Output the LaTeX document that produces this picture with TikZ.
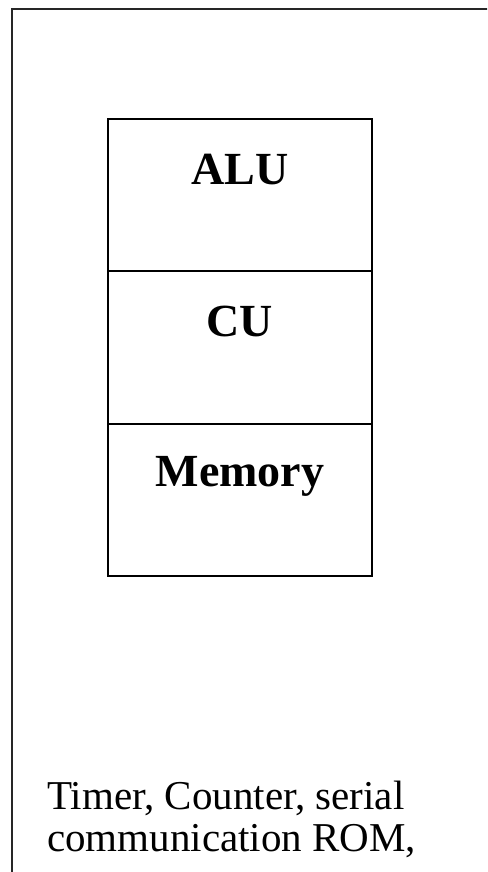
\documentclass[tikz,border=0pt]{standalone}
\usepackage{fontspec}
\setmainfont{Liberation Serif}
\usepackage{tikz}
\usetikzlibrary{positioning}

\begin{document}
\begin{tikzpicture}[x=1pt, y=-1pt,
    unitbox/.style={draw=black, line width=2.1pt, minimum width=264pt, minimum height=152.5pt, inner sep=0pt},
    unitlabel/.style={anchor=north, inner sep=0pt, font=\fontsize{46}{50}\selectfont\bfseries}]
    \useasboundingbox (0,0) rectangle (487,872);
    \clip (0,0) rectangle (487,872);

    % outer chip outline (runs off the page to the right and bottom)
    \draw[line width=2.1pt, black!85] (12,9) rectangle (540,920);

    % CPU stack, shared borders overlap
    \node[unitbox] (alu) at (240,195) {};
    \node[unitbox, below=-2.1pt of alu] (cu) {};
    \node[unitbox, below=-2.1pt of cu] (mem) {};

    \node[unitlabel] (alutext) at ([yshift=-36pt]alu.north) {ALU};
    \node[unitlabel] (cutext) at ([yshift=-36pt]cu.north) {CU};
    \node[unitlabel] (memtext) at ([yshift=-33pt]mem.north) {Memory};

    % peripherals
    \node[anchor=base west, inner sep=0pt, align=left, font=\fontsize{41}{42}\selectfont] (periph) at (47,851)
        {Timer, Counter, serial\\communication ROM,};
\end{tikzpicture}
\end{document}
